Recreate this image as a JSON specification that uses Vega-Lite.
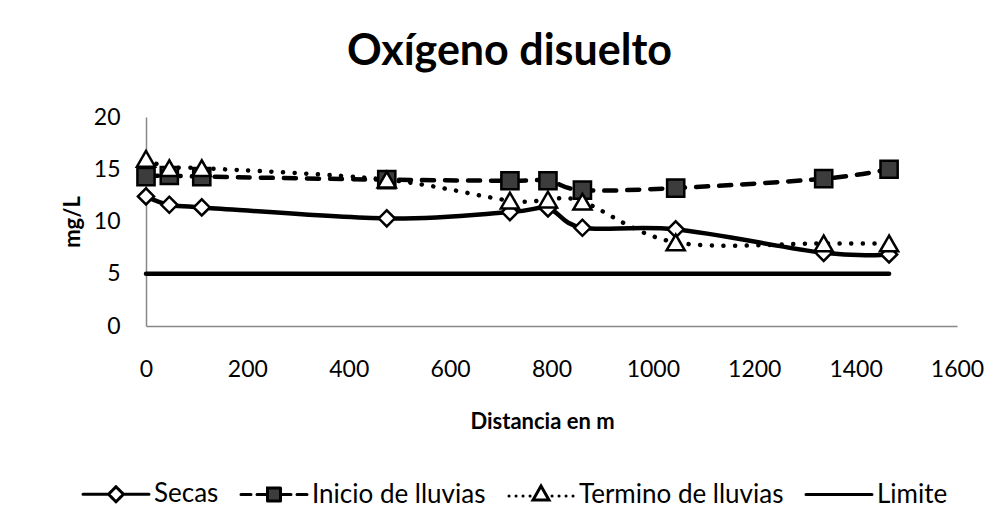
{
  "$schema": "https://vega.github.io/schema/vega-lite/v6.json",
  "autosize": "none",
  "width": 811,
  "height": 209,
  "padding": {"left": 146, "top": 117, "right": 45, "bottom": 205},
  "background": "white",
  "title": {"text": "Oxígeno disuelto", "font": "Lato", "fontSize": 43, "fontWeight": "bold", "color": "black", "anchor": "middle", "dx": -42, "dy": 2, "baseline": "alphabetic", "offset": 0},
  "config": {"view": {"stroke": null}, "font": "Lato"},
  "data": {"values": [
    {"serie": "Secas", "d": 0, "v": 12.4},
    {"serie": "Secas", "d": 46, "v": 11.6},
    {"serie": "Secas", "d": 110, "v": 11.35},
    {"serie": "Secas", "d": 475, "v": 10.3},
    {"serie": "Secas", "d": 718, "v": 10.9},
    {"serie": "Secas", "d": 793, "v": 11.25},
    {"serie": "Secas", "d": 861, "v": 9.4},
    {"serie": "Secas", "d": 1045, "v": 9.25},
    {"serie": "Secas", "d": 1337, "v": 7.0},
    {"serie": "Secas", "d": 1466, "v": 6.85},
    {"serie": "Inicio de lluvias", "d": 0, "v": 14.3},
    {"serie": "Inicio de lluvias", "d": 46, "v": 14.4},
    {"serie": "Inicio de lluvias", "d": 110, "v": 14.3},
    {"serie": "Inicio de lluvias", "d": 475, "v": 14.0},
    {"serie": "Inicio de lluvias", "d": 718, "v": 13.9},
    {"serie": "Inicio de lluvias", "d": 793, "v": 13.9},
    {"serie": "Inicio de lluvias", "d": 861, "v": 13.0},
    {"serie": "Inicio de lluvias", "d": 1045, "v": 13.2},
    {"serie": "Inicio de lluvias", "d": 1337, "v": 14.1},
    {"serie": "Inicio de lluvias", "d": 1466, "v": 15.0},
    {"serie": "Termino de lluvias", "d": 0, "v": 16.0},
    {"serie": "Termino de lluvias", "d": 46, "v": 15.1},
    {"serie": "Termino de lluvias", "d": 110, "v": 15.1},
    {"serie": "Termino de lluvias", "d": 475, "v": 14.0},
    {"serie": "Termino de lluvias", "d": 718, "v": 12.0},
    {"serie": "Termino de lluvias", "d": 793, "v": 12.1},
    {"serie": "Termino de lluvias", "d": 861, "v": 11.9},
    {"serie": "Termino de lluvias", "d": 1045, "v": 8.0},
    {"serie": "Termino de lluvias", "d": 1337, "v": 7.9},
    {"serie": "Termino de lluvias", "d": 1466, "v": 7.9},
    {"serie": "Limite", "d": 0, "v": 5},
    {"serie": "Limite", "d": 1466, "v": 5}
  ]},
  "layer": [
    {
      "transform": [{"filter": "datum.serie === 'Secas' || datum.serie === 'Limite'"}],
      "mark": {"type": "line", "interpolate": "cardinal", "strokeWidth": 4.5, "strokeCap": "round"},
      "encoding": {
        "x": {"field": "d", "type": "quantitative", "scale": {"domain": [0, 1600], "nice": false},
          "axis": {"title": "Distancia en m", "values": [0, 200, 400, 600, 800, 1000, 1200, 1400, 1600], "format": "d", "grid": false, "ticks": false, "tickSize": 0, "domainColor": "#888888", "domainWidth": 1.5, "labelFont": "Lato", "labelFontSize": 23, "labelColor": "black", "labelPadding": 32, "labelFlush": false, "labelOverlap": false, "titleFont": "Lato", "titleFontSize": 22, "titleFontWeight": "bold", "titleColor": "black", "titlePadding": 30, "titleX": 396}},
        "y": {"field": "v", "type": "quantitative", "scale": {"domain": [0, 20], "nice": false},
          "axis": {"title": "mg/L", "values": [0, 5, 10, 15, 20], "format": "d", "grid": false, "ticks": false, "tickSize": 0, "domainColor": "#888888", "domainWidth": 1.5, "labelFont": "Lato", "labelFontSize": 23, "labelColor": "black", "labelPadding": 26, "labelFlush": false, "labelOverlap": false, "titleFont": "Lato", "titleFontSize": 22, "titleFontWeight": "bold", "titleColor": "black", "titlePadding": 9}},
        "color": {"field": "serie", "type": "nominal",
          "scale": {"domain": ["Secas", "Inicio de lluvias", "Termino de lluvias", "Limite"], "range": ["black", "black", "black", "black"]},
          "legend": {"title": null, "orient": "none", "direction": "horizontal", "columns": 4, "legendX": -70, "legendY": 364,
            "labelFont": "Lato", "labelFontSize": 26, "labelColor": "black", "labelLimit": 0, "symbolSize": 100, "symbolStrokeWidth": 3, "symbolOffset": 27, "labelOffset": 25, "columnPadding": 15,
            "encoding": {"symbols": {
              "shape": {"value": {"expr": "datum.value === 'Secas' ? 'M-6.6,0H-1.6M1.6,0H6.6M-1.5,0L0,-1.5L1.5,0L0,1.5Z' : datum.value === 'Inicio de lluvias' ? 'M-6.6,0H-4.6M-3.4,0H-1.3M1.3,0H3.4M4.6,0H6.6M-1.3,-1.3H1.3V1.3H-1.3Z' : datum.value === 'Termino de lluvias' ? 'M0,-1.7L1.6,1.1L-1.6,1.1Z M-6.4,0.3L-6.38,0.3M-5,0.3L-4.98,0.3M-3.6,0.3L-3.58,0.3M-2.2,0.3L-2.18,0.3M2.2,0.3L2.22,0.3M3.6,0.3L3.62,0.3M5,0.3L5.02,0.3M6.4,0.3L6.42,0.3' : 'M-6.6,0H6.6'"}},
              "fill": {"value": {"expr": "datum.value === 'Inicio de lluvias' ? '#3c3c3c' : 'white'"}},
              "stroke": {"value": "black"},
              "strokeDash": {"value": [1, 0]},
              "strokeCap": {"value": "round"},
              "strokeWidth": {"value": 3},
              "opacity": {"value": 1}
            }}
          }}
      }
    },
    {
      "transform": [{"filter": "datum.serie === 'Inicio de lluvias'"}],
      "mark": {"type": "line", "interpolate": "cardinal", "strokeWidth": 4.5, "strokeCap": "round", "strokeDash": [12, 11], "color": "black"},
      "encoding": {
        "x": {"field": "d", "type": "quantitative"},
        "y": {"field": "v", "type": "quantitative"}
      }
    },
    {
      "transform": [{"filter": "datum.serie === 'Termino de lluvias'"}],
      "mark": {"type": "line", "interpolate": "cardinal", "strokeWidth": 4.5, "strokeCap": "round", "strokeDash": [0.1, 11.5], "color": "black"},
      "encoding": {
        "x": {"field": "d", "type": "quantitative"},
        "y": {"field": "v", "type": "quantitative"}
      }
    },
    {
      "transform": [{"filter": "datum.serie !== 'Limite'"}],
      "mark": {"type": "point", "filled": true, "stroke": "black", "strokeWidth": 2.5, "opacity": 1},
      "encoding": {
        "x": {"field": "d", "type": "quantitative"},
        "y": {"field": "v", "type": "quantitative"},
        "shape": {"field": "serie", "type": "nominal", "scale": {"domain": ["Secas", "Inicio de lluvias", "Termino de lluvias"], "range": ["diamond", "square", "triangle-up"]}, "legend": null},
        "fill": {"field": "serie", "type": "nominal", "scale": {"domain": ["Secas", "Inicio de lluvias", "Termino de lluvias"], "range": ["white", "#3c3c3c", "white"]}, "legend": null},
        "size": {"field": "serie", "type": "nominal", "scale": {"domain": ["Secas", "Inicio de lluvias", "Termino de lluvias"], "range": [260, 330, 300]}, "legend": null}
      }
    }
  ]
}
